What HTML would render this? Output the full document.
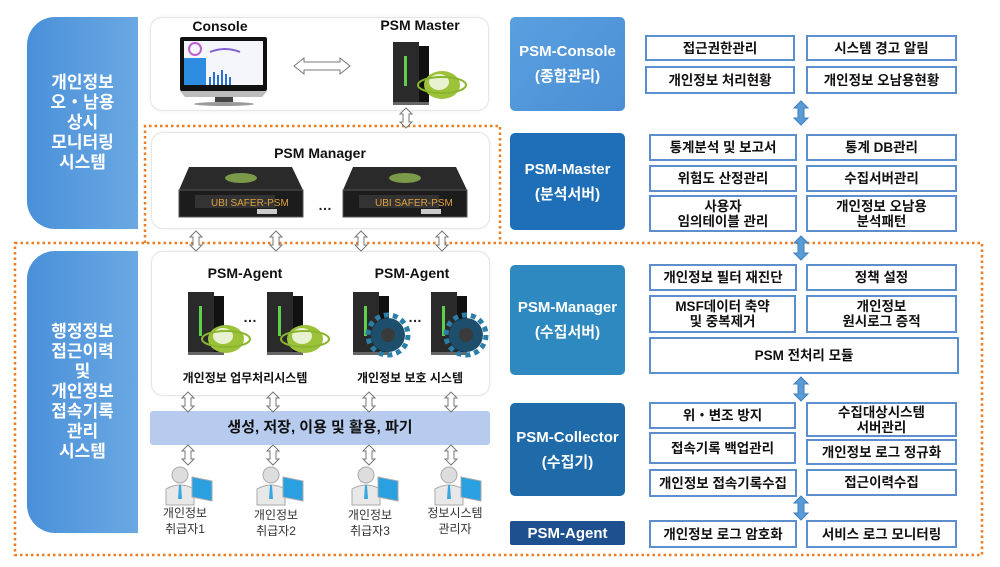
<!DOCTYPE html>
<html><head><meta charset="utf-8"><style>
body{margin:0;width:1000px;height:567px;background:#fff;position:relative;overflow:hidden;font-family:"Liberation Sans","Noto Sans CJK KR",sans-serif;}
.a{position:absolute;box-sizing:border-box;}
.lp{background:linear-gradient(90deg,#4a90d9,#6aa8e2);border-radius:28px 0 0 28px;color:#fff;font-weight:bold;font-size:17px;line-height:20px;display:flex;align-items:center;justify-content:center;text-align:center;}
.gb{border:1px solid #e6e6e6;border-radius:12px;background:#fff;box-shadow:0 0 3px #eee;}
.t{font-weight:bold;font-size:14px;color:#111;text-align:center;}
.rl{color:#fff;font-weight:bold;font-size:15px;line-height:25px;text-align:center;display:flex;align-items:center;justify-content:center;border-radius:5px;}
.sb{border:2px solid #5b8fd0;background:#fff;font-size:13.5px;font-weight:bold;color:#111;text-align:center;display:flex;align-items:center;justify-content:center;line-height:15px;white-space:nowrap;}
.ut{font-size:12px;color:#333;text-align:center;line-height:16px;width:80px;}
</style></head><body>
<svg class="a" style="left:0;top:0" width="1000" height="567">
<path d="M145,243 L145,126 L500,126 L500,243" fill="none" stroke="#ee7d22" stroke-width="2.5" stroke-dasharray="2.5,3"/>
<path d="M15,243 L982,243 L982,555 L15,555 Z" fill="none" stroke="#ee7d22" stroke-width="2.5" stroke-dasharray="2.5,3"/>
</svg>
<div class="a lp" style="left:27px;top:17px;width:111px;height:212px;">개인정보<br>오・남용<br>상시<br>모니터링<br>시스템</div>
<div class="a lp" style="left:27px;top:251px;width:111px;height:282px;">행정정보<br>접근이력<br>및<br>개인정보<br>접속기록<br>관리<br>시스템</div>

<div class="a gb" style="left:150px;top:17px;width:339px;height:94px;"></div>
<div class="a gb" style="left:151px;top:132px;width:339px;height:97px;"></div>
<div class="a gb" style="left:151px;top:251px;width:339px;height:145px;"></div>
<div class="a" style="left:150px;top:411px;width:340px;height:34px;background:#b6cbee;border-radius:3px;font-weight:bold;font-size:15px;color:#111;text-align:center;line-height:34px;">생성, 저장, 이용 및 활용, 파기</div>

<div class="a t" style="left:180px;top:18px;width:80px;">Console</div>
<div class="a t" style="left:370px;top:17px;width:100px;">PSM Master</div>
<div class="a t" style="left:250px;top:145px;width:140px;">PSM Manager</div>
<div class="a t" style="left:195px;top:265px;width:100px;">PSM-Agent</div>
<div class="a t" style="left:362px;top:265px;width:100px;">PSM-Agent</div>
<div class="a t" style="left:165px;top:369px;width:160px;font-size:12px;">개인정보 업무처리시스템</div>
<div class="a t" style="left:340px;top:369px;width:140px;font-size:12px;">개인정보 보호 시스템</div>

<svg class="a" style="left:0;top:0" width="500" height="567">
<defs>
<g id="va"><path d="M0,0 L6,6 L3,6 L3,14 L6,14 L0,20 L-6,14 L-3,14 L-3,6 L-6,6 Z" fill="#fff" stroke="#777" stroke-width="1"/></g>
<g id="tw"><rect x="0" y="0" width="26" height="62" fill="#2a2a2a"/><rect x="26" y="4" width="10" height="56" fill="#111"/><rect x="11" y="14" width="3" height="30" fill="#5fd04a"/><rect x="0" y="60" width="36" height="3" fill="#666"/></g>
<g id="gl"><ellipse cx="0" cy="0" rx="18" ry="14" fill="#9cc23a"/><ellipse cx="-3" cy="-3" rx="10" ry="8" fill="#e8f2d0"/><ellipse cx="0" cy="0" rx="24" ry="8" fill="none" stroke="#8ab52e" stroke-width="2"/></g>
<g id="gr"><circle cx="0" cy="0" r="17" fill="#1d4e6b"/><circle cx="0" cy="0" r="7" fill="#3a3a3a"/><circle cx="0" cy="0" r="20" fill="none" stroke="#2a7fa8" stroke-width="5" stroke-dasharray="5,4"/></g>
<g id="rk"><path d="M10,0 L113,0 L124,23 L0,23 Z" fill="#2a2a2a"/><ellipse cx="62" cy="11" rx="16" ry="5" fill="#7a9a4a"/><rect x="0" y="23" width="124" height="27" fill="#1c1c1c" stroke="#555"/><rect x="16" y="28" width="80" height="13" fill="#333"/><text x="32" y="39" font-size="10" fill="#e0a040" font-family="Liberation Sans">UBI SAFER-PSM</text><rect x="78" y="42" width="20" height="5" fill="#ccc"/></g>
<g id="us"><circle cx="0" cy="0" r="8" fill="#ddd" stroke="#aaa"/><path d="M-14,30 L-14,14 Q0,6 14,14 L14,30 Z" fill="#e8e8e8" stroke="#aaa"/><path d="M-1,10 L1,10 L2,24 L-2,24 Z" fill="#3aa8e0"/><path d="M12,2 L32,6 L32,26 L12,22 Z" fill="#2aa0e0" stroke="#aaa"/></g>
</defs>
<rect x="180" y="37" width="87" height="54" fill="#111" rx="2"/>
<rect x="184" y="41" width="79" height="44" fill="#f4f6fa"/>
<rect x="184" y="58" width="22" height="27" fill="#2d8de0"/>
<circle cx="195" cy="49" r="6" fill="none" stroke="#c060d0" stroke-width="2"/>
<path d="M210,77 l0,8 M214,72 l0,13 M218,75 l0,10 M222,70 l0,15 M226,74 l0,11 M230,77 l0,8" stroke="#2d6fd0" stroke-width="2"/>
<path d="M210,52 q15,-6 30,0" stroke="#8060d0" fill="none" stroke-width="2"/>
<path d="M180,91 L267,91 L262,97 L185,97 Z" fill="#bbb"/>
<rect x="215" y="97" width="18" height="5" fill="#444"/>
<ellipse cx="224" cy="104" rx="30" ry="2" fill="#999"/>
<path d="M294,66 L304,58 L304,62 L340,62 L340,58 L350,66 L340,74 L340,70 L304,70 L304,74 Z" fill="#fff" stroke="#777"/>
<use href="#tw" x="393" y="42"/>
<use href="#gl" x="442" y="85"/>
<use href="#va" x="406" y="108"/>
<use href="#rk" x="179" y="167"/>
<use href="#rk" x="343" y="167"/>
<text x="318" y="210" font-size="14" font-weight="bold" fill="#222" font-family="Liberation Sans">…</text>
<use href="#va" x="196" y="231"/><use href="#va" x="276" y="231"/><use href="#va" x="361" y="231"/><use href="#va" x="442" y="231"/>
<use href="#tw" x="188" y="292"/><use href="#gl" x="226" y="339"/>
<use href="#tw" x="267" y="292"/><use href="#gl" x="305" y="339"/>
<text x="243" y="322" font-size="14" font-weight="bold" fill="#222" font-family="Liberation Sans">…</text>
<use href="#tw" x="353" y="292"/><use href="#gr" x="388" y="335"/>
<use href="#tw" x="431" y="292"/><use href="#gr" x="466" y="335"/>
<text x="408" y="322" font-size="14" font-weight="bold" fill="#222" font-family="Liberation Sans">…</text>
<use href="#va" x="188" y="392"/><use href="#va" x="273" y="392"/><use href="#va" x="369" y="392"/><use href="#va" x="451" y="392"/>
<use href="#va" x="188" y="445"/><use href="#va" x="273" y="445"/><use href="#va" x="369" y="445"/><use href="#va" x="451" y="445"/>
<use href="#us" x="180" y="475"/><use href="#us" x="271" y="475"/><use href="#us" x="366" y="475"/><use href="#us" x="449" y="475"/>
</svg>
<div class="a ut" style="left:145px;top:505px;">개인정보<br>취급자1</div>
<div class="a ut" style="left:236px;top:507px;">개인정보<br>취급자2</div>
<div class="a ut" style="left:330px;top:507px;">개인정보<br>취급자3</div>
<div class="a ut" style="left:415px;top:505px;">정보시스템<br>관리자</div>

<div class="a rl" style="left:510px;top:17px;width:115px;height:94px;background:linear-gradient(135deg,#5aa0e0,#4a8ed4);">PSM-Console<br>(종합관리)</div>
<div class="a rl" style="left:510px;top:133px;width:115px;height:97px;background:#1f6fb8;">PSM-Master<br>(분석서버)</div>
<div class="a rl" style="left:510px;top:265px;width:115px;height:110px;background:#2d89bf;">PSM-Manager<br>(수집서버)</div>
<div class="a rl" style="left:510px;top:403px;width:115px;height:93px;background:#1f6aa8;">PSM-Collector<br>(수집기)</div>
<div class="a rl" style="left:510px;top:521px;width:115px;height:24px;background:#1e4f8e;border-radius:2px;">PSM-Agent</div>

<div class="a sb" style="left:645px;top:35px;width:150px;height:26px;">접근권한관리</div>
<div class="a sb" style="left:806px;top:35px;width:151px;height:26px;">시스템 경고 알림</div>
<div class="a sb" style="left:645px;top:66px;width:150px;height:28px;">개인정보 처리현황</div>
<div class="a sb" style="left:806px;top:66px;width:151px;height:28px;">개인정보 오남용현황</div>

<div class="a sb" style="left:649px;top:134px;width:148px;height:27px;">통계분석 및 보고서</div>
<div class="a sb" style="left:806px;top:134px;width:151px;height:27px;">통계 DB관리</div>
<div class="a sb" style="left:649px;top:165px;width:148px;height:27px;">위험도 산정관리</div>
<div class="a sb" style="left:806px;top:165px;width:151px;height:27px;">수집서버관리</div>
<div class="a sb" style="left:649px;top:195px;width:148px;height:37px;">사용자<br>임의테이블 관리</div>
<div class="a sb" style="left:806px;top:195px;width:151px;height:37px;">개인정보 오남용<br>분석패턴</div>

<div class="a sb" style="left:649px;top:264px;width:148px;height:27px;">개인정보 필터 재진단</div>
<div class="a sb" style="left:806px;top:264px;width:151px;height:27px;">정책 설정</div>
<div class="a sb" style="left:649px;top:295px;width:147px;height:38px;">MSF데이터 축약<br>및 중복제거</div>
<div class="a sb" style="left:806px;top:295px;width:151px;height:38px;">개인정보<br>원시로그 증적</div>
<div class="a sb" style="left:649px;top:337px;width:310px;height:37px;">PSM 전처리 모듈</div>

<div class="a sb" style="left:649px;top:402px;width:147px;height:27px;">위・변조 방지</div>
<div class="a sb" style="left:806px;top:402px;width:151px;height:35px;">수집대상시스템<br>서버관리</div>
<div class="a sb" style="left:649px;top:432px;width:147px;height:32px;">접속기록 백업관리</div>
<div class="a sb" style="left:806px;top:439px;width:151px;height:26px;">개인정보 로그 정규화</div>
<div class="a sb" style="left:649px;top:469px;width:148px;height:28px;">개인정보 접속기록수집</div>
<div class="a sb" style="left:806px;top:469px;width:151px;height:27px;">접근이력수집</div>

<div class="a sb" style="left:649px;top:520px;width:148px;height:28px;">개인정보 로그 암호화</div>
<div class="a sb" style="left:806px;top:520px;width:151px;height:28px;">서비스 로그 모니터링</div>

<svg class="a" style="left:790px;top:0" width="22" height="567">
<defs><g id="ba"><path d="M11,0 L18,7 L14,7 L14,17 L18,17 L11,24 L4,17 L8,17 L8,7 L4,7 Z" fill="#5b9bd5" stroke="#3f7fbf"/></g></defs>
<use href="#ba" x="0" y="101"/><use href="#ba" x="0" y="236"/><use href="#ba" x="0" y="377"/><use href="#ba" x="0" y="496"/>
</svg>
</body></html>
